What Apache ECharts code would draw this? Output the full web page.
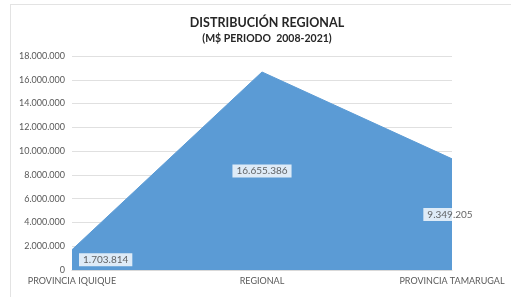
<!DOCTYPE html>
<html>
<head>
<meta charset="utf-8">
<script src="https://cdn.jsdelivr.net/npm/echarts@6/dist/echarts.min.js"></script>
<style>html,body{margin:0;padding:0;background:#fff;}#c{width:511px;height:297px;}</style>
</head>
<body>
<div id="c"></div>
<script>
var categories = ['PROVINCIA IQUIQUE', 'REGIONAL', 'PROVINCIA TAMARUGAL'];
var values = [1703814, 16655386, 9349205];
var yMin = 0, yMax = 18000000, yStep = 2000000;

function fmt(v) {
  return String(Math.round(v)).replace(/\B(?=(\d{3})+(?!\d))/g, '.');
}
var FONT = 'Lato';
var chart = echarts.init(document.getElementById('c'), null, {renderer: 'canvas'});
var labelAlign = ['left', 'center', 'center'];
var labelOffset = [[7, 0], [0, 0], [-2, 0]];
chart.setOption({
  animation: false,
  backgroundColor: '#fff',
  graphic: [
    {type: 'line', shape: {x1: 10, y1: 4.5, x2: 511, y2: 4.5}, style: {stroke: '#e3e3e3', lineWidth: 1}},
    {type: 'line', shape: {x1: 10.5, y1: 4, x2: 10.5, y2: 297}, style: {stroke: '#e3e3e3', lineWidth: 1}}
  ],
  title: {
    text: 'DISTRIBUCIÓN REGIONAL',
    subtext: '(M$ PERIODO  2008-2021)',
    left: 262, textAlign: 'center', top: 11, itemGap: 4,
    textStyle: {fontFamily: FONT, fontSize: 12.5, fontWeight: 'bold', color: '#262626'},
    subtextStyle: {fontFamily: FONT, fontSize: 10.5, fontWeight: 'bold', color: '#262626'}
  },
  grid: {left: 72, right: 59, top: 56, bottom: 27},
  xAxis: {
    type: 'category', data: categories, boundaryGap: false,
    axisLine: {show: true, lineStyle: {color: '#d9d9d9'}},
    axisTick: {show: false},
    axisLabel: {fontFamily: FONT, fontSize: 9, color: '#595959', margin: 7, interval: 0}
  },
  yAxis: {
    type: 'value', min: yMin, max: yMax, interval: yStep,
    axisLine: {show: false}, axisTick: {show: false},
    splitLine: {lineStyle: {color: '#e0e0e0'}},
    axisLabel: {fontFamily: FONT, fontSize: 9, color: '#595959', margin: 7, formatter: function (v) { return fmt(v); }}
  },
  series: [
    {
      type: 'line', data: values, symbol: 'none',
      lineStyle: {color: '#5b9bd5', width: 1},
      areaStyle: {color: '#5b9bd5', opacity: 1},
      z: 2
    },
    {
      type: 'scatter', symbol: 'circle', symbolSize: 2, silent: true,
      itemStyle: {color: 'rgba(0,0,0,0)'},
      data: values.map(function (v, i) {
        return {
          value: [i, v / 2],
          label: {align: labelAlign[i], offset: labelOffset[i]}
        };
      }),
      label: {show: true, position: 'inside', fontFamily: FONT, fontSize: 10, color: '#404040',
        backgroundColor: '#fff', padding: [2, 4, 1, 4],
        formatter: function (p) { return fmt(values[p.dataIndex]); }},
      labelLayout: function (params) {
        var i = params.dataIndex;
        return {dx: labelOffset[i][0], hideOverlap: false};
      },
      z: 5
    }
  ]
});
</script>
</body>
</html>
